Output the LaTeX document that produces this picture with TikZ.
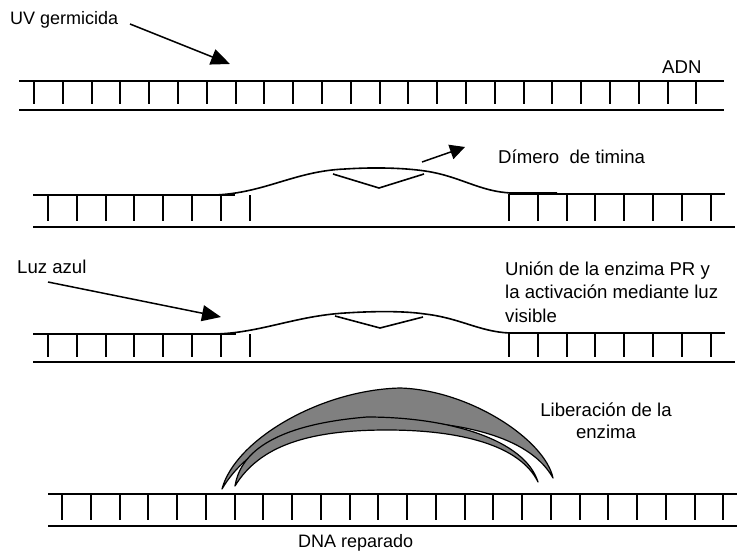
\documentclass[tikz,border=0pt]{standalone}
\usepackage{fontspec}
\setmainfont{Liberation Sans}
\usetikzlibrary{arrows.meta}

\begin{document}
\begin{tikzpicture}[x=1pt, y=-1pt,
    strand/.style={line width=1.8pt},
    rung/.style={line width=1.8pt},
    bulge/.style={line width=1.6pt},
    ray/.style={line width=1.5pt, -{Triangle[length=19pt,width=16pt]}},
    txt/.style={inner sep=0pt, anchor=base west, font=\fontsize{18.6}{23.5}\selectfont},
    enzyme/.style={fill=gray, draw=black, line width=1.2pt, line join=round}]
    \useasboundingbox (0,0) rectangle (744,552);

    % Intact DNA
    \draw[strand] (19,81) -- (724,81);
    \draw[strand] (19,110) -- (724,110);
    \foreach \i in {0,...,23} {
        \draw[rung] ({round(34+28.8*\i)},81) -- ({round(34+28.8*\i)},104);
    }
    \node[txt, font=\fontsize{18}{21}\selectfont] (uv) at (10,24) {UV germicida};
    \node[txt] (adn) at (662,73) {ADN};
    \coordinate (uv-from) at (130,24);
    \coordinate (uv-to) at (230,64);
    \draw[ray] (uv-from) -- (uv-to);

    % Thymine dimer
    \draw[strand] (33,195) -- (235,195);
    \draw[strand] (509,194) -- (725,194);
    \draw[strand] (33,227) -- (735,227);
    \foreach \i in {0,...,7} {
        \draw[rung] ({round(48+28.8*\i)},195) -- ({round(48+28.8*\i)},221);
        \draw[rung] ({round(509+28.8*\i)},194) -- ({round(509+28.8*\i)},221);
    }
    \draw[bulge] (215,195) .. controls (265,193) and (295,171) .. (345,169)
        .. controls (375,167) and (405,168) .. (425,171)
        .. controls (460,176) and (480,192) .. (512,193) -- (557,193);
    \draw[bulge] (333,174) -- (379,188) -- (424,174);
    \node[txt] (dimer) at (498,163) {Dímero\ \ de timina};
    \coordinate (dimer-from) at (422,162);
    \coordinate (dimer-to) at (465,147);
    \draw[ray, -{Triangle[length=15pt,width=15pt]}] (dimer-from) -- (dimer-to);

    % Photolyase bound, blue light
    \draw[strand] (33,334) -- (236,334);
    \draw[strand] (509,333) -- (725,333);
    \draw[strand] (33,362) -- (735,362);
    \foreach \i in {0,...,7} {
        \draw[rung] ({round(48+28.8*\i)},334) -- ({round(48+28.8*\i)},357);
        \draw[rung] ({round(509+28.8*\i)},333) -- ({round(509+28.8*\i)},357);
    }
    \draw[bulge] (215,334) .. controls (260,333) and (295,316) .. (345,313)
        .. controls (375,311) and (405,311) .. (425,314)
        .. controls (460,318) and (480,332) .. (510,333) -- (557,333);
    \draw[bulge] (335,316) -- (380,328) -- (423,317);
    \node[txt] (luz) at (17,273) {Luz azul};
    % last line sits on the given baseline
    \node[txt, align=left] (union) at (505,322)
        {Unión de la enzima PR y\\la activación mediante luz\\visible};
    \coordinate (luz-from) at (48,282);
    \coordinate (luz-to) at (221,317);
    \draw[ray] (luz-from) -- (luz-to);

    % Repaired DNA
    \draw[strand] (48,494) -- (737,494);
    \draw[strand] (48,526) -- (737,526);
    \foreach \i in {0,...,23} {
        \draw[rung] ({round(62+28.75*\i)},494) -- ({round(62+28.75*\i)},520);
    }
    \node[txt, font=\fontsize{18}{21}\selectfont] (repaired) at (298,547) {DNA reparado};

    % Enzyme leaving
    \draw[enzyme] (222,489) .. controls (235,440) and (320,390) .. (400,388)
        .. controls (470,390) and (545,440) .. (553,478)
        .. controls (532,440) and (470,421) .. (385,421)
        .. controls (300,421) and (248,445) .. cycle;
    \draw[enzyme] (235,486) .. controls (240,455) and (270,425) .. (367,417)
        .. controls (450,417) and (525,440) .. (538,482)
        .. controls (520,445) and (460,430) .. (387,430)
        .. controls (310,430) and (260,445) .. cycle;
    \node[txt, anchor=base, align=center, font=\fontsize{18.6}{21.6}\selectfont] (release) at (606,438)
        {Liberación de la\\enzima};
\end{tikzpicture}
\end{document}
